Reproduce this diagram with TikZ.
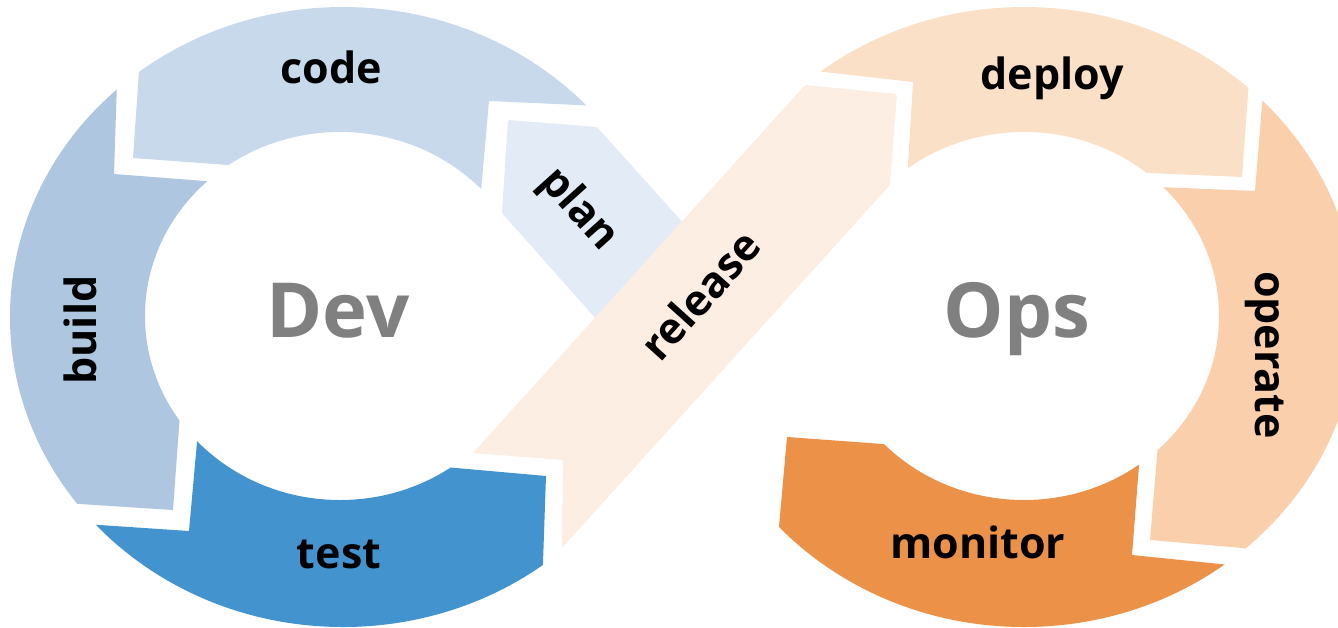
\documentclass[tikz,border=0pt]{standalone}
\usepackage{fontspec}
\setmainfont{Open Sans}
\definecolor{cCode}{RGB}{201,217,236}
\definecolor{cBuild}{RGB}{175,198,224}
\definecolor{cTest}{RGB}{66,147,206}
\definecolor{cPlan}{RGB}{227,235,246}
\definecolor{cRel}{RGB}{253,238,227}
\definecolor{cDeploy}{RGB}{251,224,200}
\definecolor{cOper}{RGB}{250,207,172}
\definecolor{cMon}{RGB}{235,145,72}
\definecolor{cGray}{RGB}{128,128,128}
\newcommand\LeftRing[1]{\fill[#1,even odd rule] (343,317) ellipse [x radius=333pt, y radius=310pt] (340,316) ellipse [x radius=195pt, y radius=184pt];}
\newcommand\RightRing[1]{\fill[#1,even odd rule] (1024,317) ellipse [x radius=333pt, y radius=310pt] (1024,316) ellipse [x radius=195pt, y radius=184pt];}
\tikzset{
  lab/.style={font=\bfseries\fontsize{43}{50}\selectfont, text=black, inner sep=0pt},
  big/.style={font=\bfseries\fontsize{76}{90}\selectfont, text=cGray, inner sep=0pt, anchor=base},
  band/.style={rounded corners=1.5pt}
}
\begin{document}
\begin{tikzpicture}[x=1pt,y=-1pt]
\useasboundingbox (0,0) rectangle (1338,627);
\clip (0,0) rectangle (1338,627);
% code
\begin{scope}
\clip (146,-30) -- (133,158) -- (228,165) -- (300,170) -- (478,225) -- (489,101) -- (578,105) -- (750,113) -- (750,-30) -- cycle;
\LeftRing{cCode}
\end{scope}
% build
\begin{scope}
\clip (119,20) -- (114,174) -- (205,181) -- (260,185) -- (260,400) -- (181,400) -- (173,510) -- (80,504) -- (-50,498) -- (-50,20) -- cycle;
\LeftRing{cBuild}
\end{scope}
% test
\begin{scope}
\clip (-50,515) -- (189,531) -- (199,420) -- (400,420) -- (400,463) -- (546,476) -- (540,650) -- (-50,650) -- cycle;
\LeftRing{cTest}
\end{scope}
% deploy
\begin{scope}
\clip (700,58) -- (913,82) -- (904,230) -- (1080,230) -- (1080,170) -- (1242,177) -- (1257,-30) -- (700,-30) -- cycle;
\RightRing{cDeploy}
\end{scope}
% operate
\begin{scope}
\clip (1273,-30) -- (1255,191) -- (1158,187) -- (1100,185) -- (1100,420) -- (1160,420) -- (1150,540) -- (1242,548) -- (1450,566) -- (1450,-30) -- cycle;
\RightRing{cOper}
\end{scope}
% monitor
\begin{scope}
\clip (768,650) -- (787,437) -- (883,444) -- (950,449) -- (1141,440) -- (1132,555) -- (1220,564) -- (1400,582) -- (1400,650) -- cycle;
\RightRing{cMon}
\end{scope}
% plan
\fill[cPlan, band] (508,120) -- (597,127) -- (720,264) -- (620,346) -- (502,213) -- cycle;
% release
\fill[cRel, band] (473,453) -- (563,460) -- (562,548) -- (890,185) -- (897,94) -- (805,85) -- cycle;
% labels
\node[lab, anchor=base] (code) at (331,83) {code};
\node[lab, anchor=base] (deploy) at (1052,89) {deploy};
\node[lab, anchor=base] (test) at (339,568) {test};
\node[lab, anchor=base] (monitor) at (978,558) {monitor};
\node[lab, rotate=-48] (plan) at (578,210) {plan};
\node[lab, rotate=48] (release) at (700,295) {release};
\node[lab, rotate=90] (build) at (80,330) {build};
\node[lab, rotate=-90] (operate) at (1265,355) {operate};
\node[big] (dev) at (338,337) {Dev};
\node[big] (ops) at (1017,337) {Ops};
\end{tikzpicture}
\end{document}
